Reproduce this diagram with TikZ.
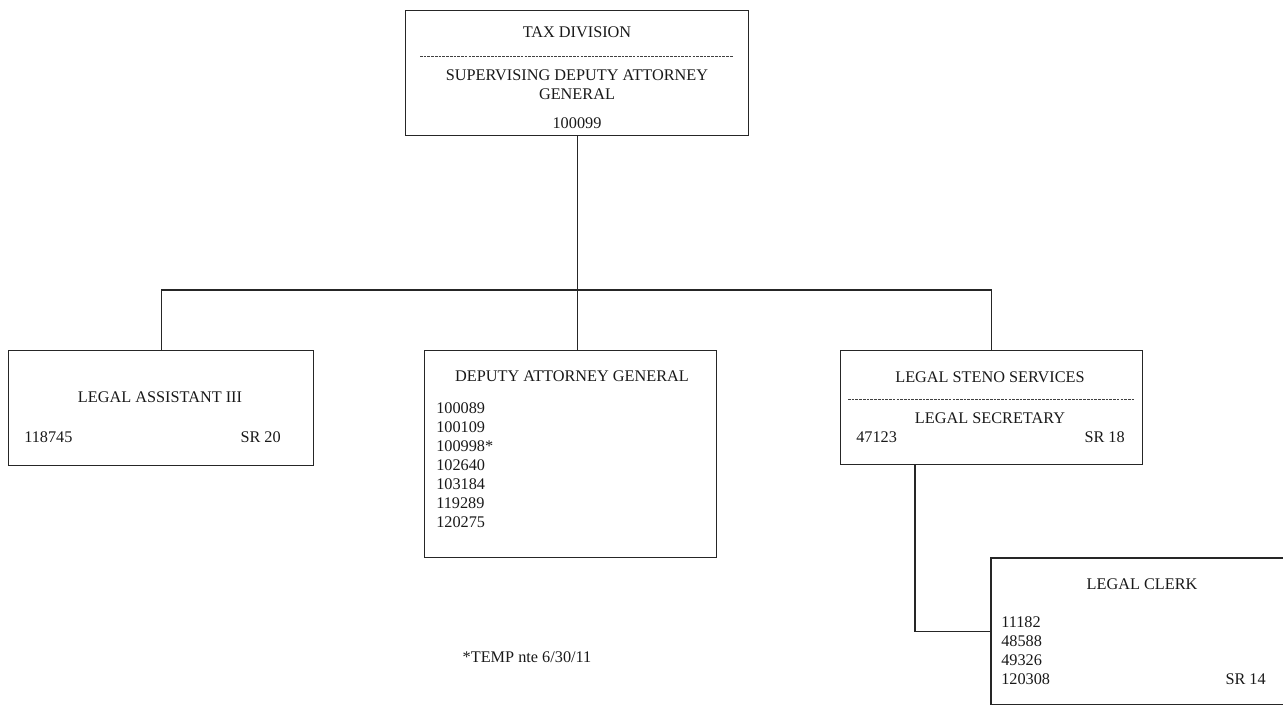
\documentclass[tikz,border=0pt]{standalone}
\usepackage{fontspec}
\setmainfont{Liberation Serif}

\tikzset{
    box/.style={draw=black!85, line width=1.1pt, anchor=north west, inner sep=0pt},
    lbl/.style={font=\fontsize{12.2}{14}\selectfont, text=black!90, inner sep=0pt},
    sep/.style={draw=black!75, line width=0.7pt, dash pattern=on 2pt off 0.8pt},
    wire/.style={draw=black!85, line width=1.1pt}
}

\begin{document}
\begin{tikzpicture}[x=0.75pt,y=-0.75pt]

            \useasboundingbox (0,0) rectangle (1283,710);

            %boxes
            \node[box, minimum width=343*0.75pt, minimum height=125*0.75pt] (top) at (405,10) {};
            \node[box, minimum width=305*0.75pt, minimum height=115*0.75pt] (assist) at (8,350) {};
            \node[box, minimum width=292*0.75pt, minimum height=207*0.75pt] (deputy) at (424,350) {};
            \node[box, minimum width=302*0.75pt, minimum height=114*0.75pt] (steno) at (840,350) {};
            \node[box, draw=none, minimum width=292*0.75pt, minimum height=145*0.75pt] (clerk) at (991,558) {};
            \draw[wire] (clerk.north east) -- (clerk.north west) -- (clerk.south west) -- (clerk.south east);

            %top box
            \node[lbl] (taxdiv) at (577,32) {TAX DIVISION};
            \draw[sep] (420,56) -- (733,56);
            \node[lbl] (supdag) at (577,75) {SUPERVISING DEPUTY ATTORNEY};
            \node[lbl] (supgen) at (577,94) {GENERAL};
            \node[lbl] (supnum) at (577,123) {100099};

            %legal assistant
            \node[lbl] (asstitle) at (160,397) {LEGAL ASSISTANT III};
            \node[lbl, anchor=west] (assnum) at (24,437) {118745};
            \node[lbl, anchor=east] (assgrade) at (281,437) {SR 20};

            %deputy attorney general
            \node[lbl] (dagtitle) at (572,376) {DEPUTY ATTORNEY GENERAL};
            \foreach \n [count=\i from 0] in {100089,100109,100998*,102640,103184,119289,120275}
                \node[lbl, anchor=west] (dag\i) at (436,{408+19*\i}) {\n};

            %steno services
            \node[lbl] (stenotitle) at (990,377) {LEGAL STENO SERVICES};
            \draw[sep] (848,399) -- (1135,399);
            \node[lbl] (sectitle) at (990,418) {LEGAL SECRETARY};
            \node[lbl, anchor=west] (secnum) at (856,437) {47123};
            \node[lbl, anchor=east] (secgrade) at (1125,437) {SR 18};

            %legal clerk
            \node[lbl] (clerktitle) at (1142,584) {LEGAL CLERK};
            \foreach \n [count=\i from 0] in {11182,48588,49326,120308}
                \node[lbl, anchor=west] (clerk\i) at (1001,{622+19*\i}) {\n};
            \node[lbl, anchor=east] (clerkgrade) at (1266,679) {SR 14};

            %note
            \node[lbl] (note) at (527,657) {*TEMP nte 6/30/11};

            %lines
            \coordinate (bus) at (0,290);
            \coordinate (drop) at (915,0);
            \draw[wire] (top.south) -- (top.south |- deputy.north);
            \draw[wire] (assist.north) -- (assist.north |- bus) -- (steno.north |- bus) -- (steno.north);
            \draw[wire] (steno.south -| drop) |- (clerk.west);
\end{tikzpicture}
\end{document}
